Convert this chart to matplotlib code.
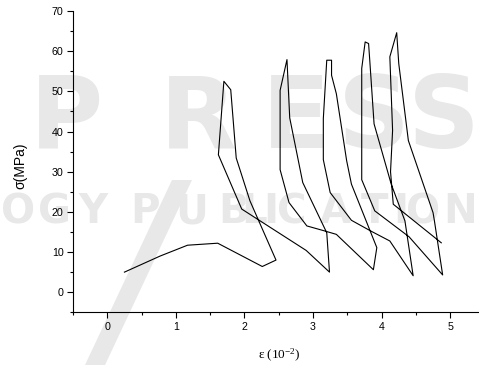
import matplotlib
matplotlib.use("Agg")
import matplotlib.pyplot as plt
from matplotlib.ticker import MultipleLocator
from matplotlib.patches import Polygon

plt.rcParams['font.family'] = ['Liberation Sans', 'DejaVu Sans']
plt.rcParams['mathtext.fontset'] = 'custom'
plt.rcParams['mathtext.rm'] = 'Liberation Serif'
plt.rcParams['mathtext.it'] = 'Liberation Serif:italic'

# strain (10^-2) and stress (MPa) along the single loading path
strain = [0.25, 0.77, 1.17, 1.61, 2.26, 2.46,
          2.08, 1.88, 1.80, 1.70, 1.62, 1.96, 2.90, 3.24,
          3.20, 2.85, 2.66, 2.62, 2.52, 2.52, 2.65, 2.91, 3.17, 3.34, 3.88,
          3.93, 3.56, 3.49, 3.34, 3.27, 3.27, 3.20, 3.15, 3.15, 3.25, 3.56, 3.84, 4.12, 4.46,
          4.34, 4.14, 4.07, 3.89, 3.83, 3.81, 3.76, 3.71, 3.71, 3.90, 4.40, 4.89,
          4.77, 4.75, 4.39, 4.25, 4.22, 4.12, 4.16, 4.13, 4.17, 4.87]
stress = [5.0, 9.0, 11.7, 12.2, 6.4, 8.0,
          22.75, 33.4, 50.4, 52.5, 34.2, 20.7, 10.4, 5.0,
          14.8, 27.3, 43.4, 57.9, 50.25, 30.5, 22.3, 16.5, 15.25, 14.4, 5.6,
          11.1, 26.9, 32.75, 49.4, 54.0, 57.75, 57.75, 43.2, 33.0, 24.8, 17.9, 15.25, 12.75, 4.1,
          17.75, 26.9, 31.1, 41.9, 57.0, 61.9, 62.3, 55.7, 28.0, 20.25, 13.8, 4.3,
          17.75, 19.8, 37.75, 56.9, 64.6, 58.6, 40.25, 30.0, 21.9, 12.3]

xticks = [0, 1, 2, 3, 4, 5]
yticks = [0, 10, 20, 30, 40, 50, 60, 70]

# background watermark letters (publisher stamp)
wm_big = list('PRESS')
wm_small = list('OGYPUBLICATION')

W, H = 479, 365
fig = plt.figure(figsize=(W / 100, H / 100), dpi=100)

def px(x, y):
    return x / W, (H - y) / H

wm = '#e8e8e8'
for ch, x0 in zip(wm_big, [30, 160, 262, 338, 408]):
    fig.text(*px(x0, 148), ch, fontsize=72, fontweight='bold', color=wm,
             family='DejaVu Sans', ha='left', va='baseline', zorder=-2)
for ch, x0 in zip(wm_small, [1, 38, 78, 130, 175, 218, 241, 263, 277, 320, 361, 393, 406, 443]):
    fig.text(*px(x0, 223), ch, fontsize=29, fontweight='bold', color=wm,
             family='DejaVu Sans', ha='left', va='baseline', zorder=-2)
fig.patches.append(Polygon([px(172, 180), px(192, 180), px(105, 365), px(85, 365)],
                           closed=True, transform=fig.transFigure, facecolor=wm,
                           edgecolor='none', zorder=-2))

ax = fig.add_axes([73 / W, (H - 312.3) / H, 1 - 73 / W, (312.3 - 11) / H])
ax.set_zorder(1)
ax.patch.set_alpha(0)

ax.plot(strain, stress, color='black', linewidth=0.8)

ax.set_xlim(-0.5, 5.42)
ax.set_ylim(-5, 70)
ax.set_xticks(xticks)
ax.set_yticks(yticks)
ax.xaxis.set_minor_locator(MultipleLocator(0.5))
ax.yaxis.set_minor_locator(MultipleLocator(5))
for s in ['top', 'right']:
    ax.spines[s].set_visible(False)
for s in ['left', 'bottom']:
    ax.spines[s].set_linewidth(0.8)
ax.tick_params(which='major', direction='out', length=4.2, width=0.8, labelsize=7.7, pad=2.5)
ax.tick_params(which='minor', direction='out', length=2.2, width=0.8)

fig.text(*px(20.5, 166), 'σ(MPa)', fontsize=10, rotation=90, ha='center', va='center', zorder=3)
fig.text(*px(279, 355), r'ε (10$^{-2}$)', fontsize=9.5,
         family=['Liberation Serif', 'DejaVu Serif'], ha='center', va='center', zorder=3)

fig.savefig('out.png', dpi=100)
